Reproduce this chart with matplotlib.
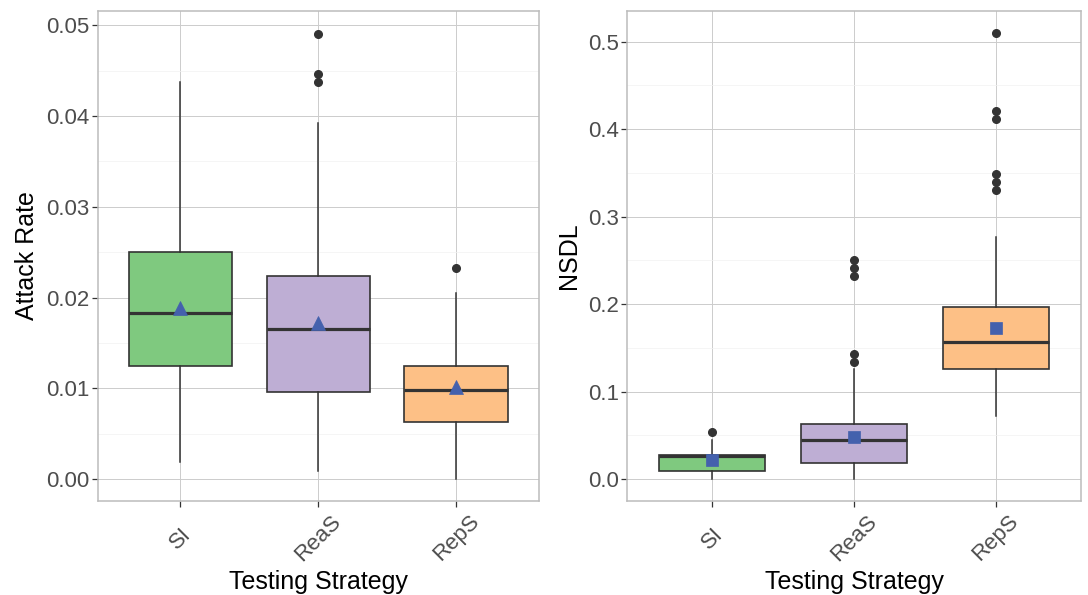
import matplotlib
matplotlib.use("Agg")
import matplotlib.pyplot as plt
from matplotlib.ticker import MultipleLocator

plt.rcParams['font.family'] = ['Liberation Sans', 'DejaVu Sans']

strategies = ["SI", "ReaS", "RepS"]
box_colors = ["#7fc97f", "#beaed4", "#fdc086"]

# attack rate box stats
ar_low = [0.00184, 0.00092, 0.0]
ar_q1 = [0.01248, 0.00958, 0.00624]
ar_med = [0.01832, 0.01652, 0.00984]
ar_q3 = [0.02503, 0.02236, 0.01248]
ar_high = [0.04376, 0.03924, 0.02045]
ar_mean = [0.0188, 0.01715, 0.0101]
ar_out = [[], [0.0491, 0.04464, 0.04372], [0.02324]]

# NSDL box stats
ns_low = [0.0, 0.0, 0.072]
ns_q1 = [0.0091, 0.0183, 0.1253]
ns_med = [0.0267, 0.0449, 0.1566]
ns_q3 = [0.0278, 0.0625, 0.1969]
ns_high = [0.0442, 0.1253, 0.2769]
ns_mean = [0.0217, 0.048, 0.1729]
ns_out = [[0.0533], [0.2503, 0.2411, 0.232, 0.1432, 0.1341],
          [0.5097, 0.4202, 0.411, 0.349, 0.3398, 0.3307]]


def make_stats(low, q1, med, q3, high, mean, out):
    stats = []
    for i in range(len(strategies)):
        stats.append({'whislo': low[i], 'q1': q1[i], 'med': med[i], 'q3': q3[i],
                      'whishi': high[i], 'mean': mean[i], 'fliers': out[i],
                      'label': strategies[i]})
    return stats


def draw_panel(ax, stats, mean_marker, ylabel, ylim, major, minor, fmt):
    bp = ax.bxp(stats, positions=[1, 2, 3], widths=0.75, patch_artist=True,
                showmeans=True, showcaps=False,
                boxprops=dict(edgecolor="#333333", linewidth=1.2),
                medianprops=dict(color="#333333", linewidth=2.3),
                whiskerprops=dict(color="#333333", linewidth=1.1),
                flierprops=dict(marker='o', markerfacecolor="#333333",
                                markeredgecolor="#333333", markersize=5.5),
                meanprops=dict(marker=mean_marker, markerfacecolor="#4461ad",
                               markeredgecolor="#4461ad", markeredgewidth=0.5,
                               markersize=10 if mean_marker == '^' else 9))
    for patch, c in zip(bp['boxes'], box_colors):
        patch.set_facecolor(c)
    ax.set_xlim(0.4, 3.6)
    ax.set_ylim(*ylim)
    ax.yaxis.set_major_locator(MultipleLocator(major))
    ax.yaxis.set_minor_locator(MultipleLocator(minor))
    ax.yaxis.set_major_formatter(plt.FormatStrFormatter(fmt))
    ax.set_axisbelow(True)
    ax.grid(True, which='major', color="#cccccc", linewidth=0.7)
    ax.grid(True, which='minor', axis='y', color="#f2f2f2", linewidth=0.5)
    ax.tick_params(which='minor', left=False)
    ax.tick_params(axis='both', which='major', length=4, width=0.9,
                   color="#333333", labelcolor="#4d4d4d", labelsize=16, pad=2)
    ax.tick_params(axis='x', pad=23)
    ax.set_xticks([1, 2, 3])
    ax.set_xticklabels(strategies, rotation=45, ha='center', va='center',
                       rotation_mode='anchor')
    for s in ax.spines.values():
        s.set_color("#bcbcbc")
        s.set_linewidth(1.1)
    ax.set_xlabel("Testing Strategy", fontsize=18, labelpad=3)
    ax.set_ylabel(ylabel, fontsize=18, labelpad=5)


fig = plt.figure(figsize=(10.88, 5.95), dpi=100)
ax1 = fig.add_axes([0.0898, 0.1585, 0.4053, 0.8230])
ax2 = fig.add_axes([0.5763, 0.1585, 0.4173, 0.8230])

draw_panel(ax1, make_stats(ar_low, ar_q1, ar_med, ar_q3, ar_high, ar_mean, ar_out),
           '^', "Attack Rate", (-0.00239, 0.05158), 0.01, 0.005, '%.2f')
draw_panel(ax2, make_stats(ns_low, ns_q1, ns_med, ns_q3, ns_high, ns_mean, ns_out),
           's', "NSDL", (-0.0248, 0.5349), 0.1, 0.05, '%.1f')

fig.savefig("out.png", dpi=100)
